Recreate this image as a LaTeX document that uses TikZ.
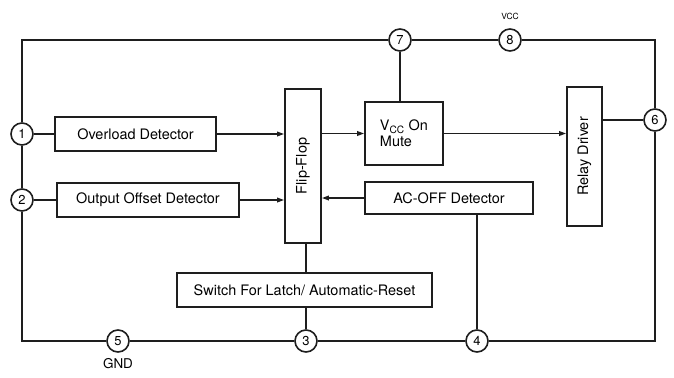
\documentclass[tikz,border=0pt]{standalone}
\usepackage{fontspec}
\setmainfont{TeX Gyre Heros}
\usepackage{tikz}
\usetikzlibrary{arrows.meta,positioning}
\definecolor{ink}{HTML}{1E1E1E}

\begin{document}
\begin{tikzpicture}[x=1bp,y=-1bp,line width=1.6bp,draw=ink,
    blk/.style={draw=ink,line width=1.6bp,inner sep=0pt,font=\fontsize{14.5}{16}\selectfont},
    pin/.style={circle,draw=ink,line width=1.6bp,minimum size=22bp,inner sep=0pt,font=\fontsize{13}{14}\selectfont},
    sig/.style={-{Triangle[length=7bp,width=4.5bp]}}]
  \useasboundingbox (0,0) rectangle (674,377);
  \node[pin] (p1) at (22,134) {1};
  \node[pin] (p2) at (22,200) {2};
  \node[pin] (p3) at (306,341) {3};
  \node[pin] (p4) at (477,341) {4};
  \node[pin] (p5) at (118,341) {5};
  \node[pin] (p6) at (655,120) {6};
  \node[pin] (p7) at (400,40) {7};
  \node[pin] (p8) at (510,40) {8};
  \coordinate (tl) at (22,40);
  \coordinate (tr) at (655,40);
  \coordinate (bl) at (22,341);
  \coordinate (br) at (655,341);
  \node[font=\fontsize{8.5}{9}\selectfont] (vcc) at (510,16) {VCC};
  \node[font=\fontsize{13.5}{14}\selectfont] (gnd) at (118,364) {GND};

  \node[blk,minimum width=161bp,minimum height=34bp] (ovl) at (135.5,134) {Overload Detector};
  \node[blk,minimum width=182bp,minimum height=34bp] (ofs) at (148,200) {Output Offset Detector};
  \node[blk,minimum width=36bp,minimum height=154bp] (ff) at (303,166) {\rotatebox{90}{Flip-Flop}};
  \node[blk,minimum width=255bp,minimum height=34bp] (sw) at (304.5,290) {Switch For Latch/ Automatic-Reset};
  \node[blk,minimum width=78bp,minimum height=63bp,align=left] (mute) at (404,133.5)
    {V\textsubscript{CC} On\\Mute};
  \node[blk,minimum width=168bp,minimum height=32bp] (acoff) at (449,198) {AC-OFF Detector};
  \node[blk,minimum width=35bp,minimum height=139bp] (relay) at (584.5,156.5) {\rotatebox{90}{Relay Driver}};

  \draw (p1) -- (tl) -- (p7);
  \draw (p7) -- (p8);
  \draw (p8) -- (tr) -- (p6);
  \draw (p6) -- (br) -- (p4);
  \draw (p4) -- (p3);
  \draw (p3) -- (p5);
  \draw (p5) -- (bl) -- (p2);
  \draw (p2) -- (p1);

  \draw (p1) -- (ovl);
  \draw (p2) -- (ofs);
  \draw[sig] (ovl) -- (ovl -| ff.west);
  \draw[sig] (ofs) -- (ofs -| ff.west);
  \draw[sig] (ff.east |- mute.west) -- (mute.west);
  \draw[sig] (mute.east) -- (mute.east -| relay.west);
  \draw[sig] (acoff.west) -- (acoff.west -| ff.east);
  \draw (p7) -- (p7 |- mute.north);
  \draw (relay.east |- p6) -- (p6);
  \draw (p3 |- ff.south) -- (p3 |- sw.north);
  \draw (p3 |- sw.south) -- (p3);
  \draw (p4 |- acoff.south) -- (p4);
\end{tikzpicture}
\end{document}
